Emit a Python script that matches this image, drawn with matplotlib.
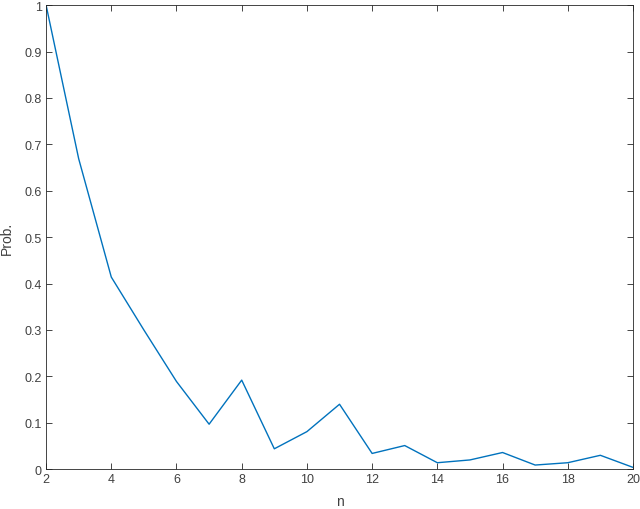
import matplotlib
matplotlib.use("Agg")
import matplotlib.pyplot as plt
import numpy as np

# ---- data ----
n_vals = list(range(2, 21))
prob = [1.0, 0.669, 0.414, 0.300, 0.189, 0.097, 0.192, 0.044, 0.081, 0.140,
        0.034, 0.051, 0.014, 0.020, 0.036, 0.009, 0.014, 0.030, 0.004]
xticks = list(range(2, 21, 2))
yticks = [0, 0.1, 0.2, 0.3, 0.4, 0.5, 0.6, 0.7, 0.8, 0.9, 1]

plt.rcParams['font.family'] = ['Liberation Sans', 'DejaVu Sans']

fig = plt.figure(figsize=(6.4, 5.1), dpi=100)
ax = fig.add_axes([0.072, 0.078, 0.917, 0.910])

ax.plot(n_vals, prob, color='#0072BD', linewidth=1.0)

ax.set_xlim(2, 20)
ax.set_ylim(0, 1)
ax.set_xticks(xticks)
ax.set_yticks(yticks)
ax.set_yticklabels([f"{t:g}" for t in yticks])

axcol = '#262626'
for sp in ax.spines.values():
    sp.set_color(axcol)
    sp.set_linewidth(0.6)
ax.tick_params(direction='in', top=True, right=True, length=4, width=0.6,
               colors=axcol, labelsize=9, labelcolor='#404040', pad=3)

ax.set_xlabel("n", fontsize=10, color='#404040', labelpad=6)
ax.set_ylabel("Prob.", fontsize=10, color='#404040', labelpad=8)

fig.savefig("out.png", dpi=100)
